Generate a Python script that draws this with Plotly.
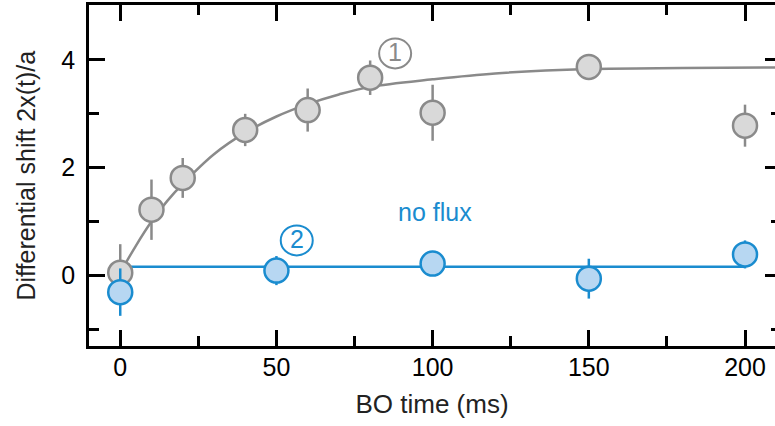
import plotly.graph_objects as go

# Series 1 (gray, with flux)
t1 = [0, 10, 20, 40, 60, 80, 100, 150, 200]
y1 = [0.05, 1.22, 1.81, 2.70, 3.07, 3.67, 3.02, 3.87, 2.78]
e1 = [0.53, 0.56, 0.37, 0.30, 0.40, 0.32, 0.52, 0.12, 0.39]

# Fit curve 1
tf1 = [0, 5, 10, 15, 20, 30, 40, 50, 60, 70, 80, 100, 120, 150, 180, 212]
yf1 = [0.05, 0.55, 1.00, 1.38, 1.70, 2.25, 2.65, 2.95, 3.18, 3.36, 3.50, 3.64, 3.75, 3.83, 3.85, 3.86]

# Series 2 (blue, no flux)
t2 = [0, 50, 100, 150, 200]
y2 = [-0.31, 0.09, 0.22, -0.06, 0.39]
e2 = [0.44, 0.27, 0.12, 0.37, 0.26]

# Fit line 2
tf2 = [0, 200]
yf2 = [0.16, 0.16]

x_ticks = [0, 50, 100, 150, 200]
x_minor = [25, 75, 125, 175]
y_ticks = [0, 2, 4]
y_minor = [-1, 1, 3]

GRAY_LINE = "#8a8a8a"
GRAY_FILL = "#d9d9d9"
BLUE_LINE = "#1a8ccf"
BLUE_FILL = "#b7d7f2"
FONT = "Liberation Sans, Arial, Helvetica, sans-serif"

XR = [-10, 209.6]
YR = [-1.31, 5.02]

fig = go.Figure()

fig.add_trace(go.Scatter(x=tf1, y=yf1, mode="lines", line=dict(color=GRAY_LINE, width=2.5, shape="spline"),
                         showlegend=False, hoverinfo="skip"))
fig.add_trace(go.Scatter(x=tf2, y=yf2, mode="lines", line=dict(color=BLUE_LINE, width=2.5),
                         showlegend=False, hoverinfo="skip"))
fig.add_trace(go.Scatter(x=t1, y=y1, mode="markers",
                         error_y=dict(type="data", array=e1, color=GRAY_LINE, thickness=2.5, width=0),
                         marker=dict(size=24, color=GRAY_FILL, line=dict(color=GRAY_LINE, width=2.5)),
                         showlegend=False))
fig.add_trace(go.Scatter(x=t2, y=y2, mode="markers",
                         error_y=dict(type="data", array=e2, color=BLUE_LINE, thickness=2.5, width=0),
                         marker=dict(size=24, color=BLUE_FILL, line=dict(color=BLUE_LINE, width=2.5)),
                         showlegend=False))
# invisible trace for right-hand tick axis
fig.add_trace(go.Scatter(x=[None], y=[None], yaxis="y2", showlegend=False, hoverinfo="skip"))

# circled labels
for (cx, cy, label, col) in [(88, 4.12, "1", GRAY_LINE), (56.5, 0.65, "2", BLUE_LINE)]:
    fig.add_shape(type="circle", xref="x", yref="y", xsizemode="pixel", ysizemode="pixel",
                  xanchor=cx, yanchor=cy, x0=-16, x1=16, y0=-15, y1=15,
                  line=dict(color=col, width=2), fillcolor="rgba(0,0,0,0)")
    fig.add_annotation(x=cx, y=cy, text=label, showarrow=False,
                       font=dict(family=FONT, size=25, color=col), yshift=1)

fig.add_annotation(x=100.8, y=1.17, text="no flux", showarrow=False,
                   font=dict(family=FONT, size=25, color=BLUE_LINE))

# y-axis title placed as rotated text
fig.add_annotation(xref="paper", yref="paper", x=0, y=0.5, xanchor="center", yanchor="middle",
                   xshift=-64, textangle=-90, text="Differential shift 2x(t)/a", showarrow=False,
                   font=dict(family=FONT, size=25, color="#222"))

fig.update_layout(
    width=775, height=426,
    margin=dict(l=89, r=0, t=5, b=80),
    paper_bgcolor="white", plot_bgcolor="white",
    font=dict(family=FONT, size=25, color="black"),
    xaxis=dict(range=XR, tickvals=x_ticks, ticks="inside", ticklen=16, tickwidth=2.5, tickcolor="black",
               showline=True, linecolor="black", linewidth=2.5, mirror="ticks", showgrid=False, zeroline=False,
               minor=dict(tickvals=x_minor, ticks="inside", ticklen=10, tickwidth=2.5, tickcolor="black"),
               title=dict(text="BO time (ms)", font=dict(size=26, color="#222"), standoff=16),
               tickfont=dict(size=25), ticklabelstandoff=-3, automargin=False),
    yaxis=dict(range=YR, tickvals=y_ticks, ticks="inside", ticklen=16, tickwidth=2.5, tickcolor="black",
               showline=True, linecolor="black", linewidth=2.5, mirror=False, showgrid=False, zeroline=False,
               minor=dict(tickvals=y_minor, ticks="inside", ticklen=10, tickwidth=2.5, tickcolor="black"),
               tickfont=dict(size=25), ticklabelstandoff=6, automargin=False),
    yaxis2=dict(range=YR, overlaying="y", side="right", tickvals=y_ticks, ticks="inside", ticklen=10,
                tickwidth=2.5, tickcolor="black", showline=False, showgrid=False, zeroline=False,
                showticklabels=False, automargin=False,
                minor=dict(tickvals=y_minor, ticks="inside", ticklen=4, tickwidth=2.5, tickcolor="black")),
)

fig.write_html("out.html", config={"displayModeBar": False},
               post_script="document.body.style.margin='0';")
